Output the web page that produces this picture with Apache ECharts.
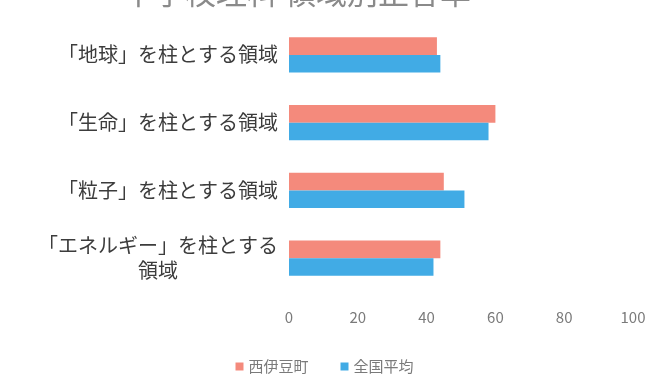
<!DOCTYPE html>
<html>
<head>
<meta charset="utf-8">
<script src="https://cdn.jsdelivr.net/npm/echarts@6/dist/echarts.min.js"></script>
<style>
  html, body { margin: 0; padding: 0; background: #ffffff; }
  #chart { width: 649px; height: 383px; }
</style>
</head>
<body>
<div id="chart"></div>
<script>
// Science (junior high) correct-answer rates by domain
const titleText = '中学校理科 領域別正答率';
const categories = ['「地球」を柱とする領域', '「生命」を柱とする領域', '「粒子」を柱とする領域', '「エネルギー」を柱とする領域'];
const seriesNames = ['西伊豆町', '全国平均'];
const townValues = [43, 60, 45, 44];
const nationalValues = [44, 58, 51, 42];
const valueTicks = [0, 20, 40, 60, 80, 100];

const FONT = '"Noto Sans CJK JP", "Noto Sans", sans-serif';
const LABEL_COLOR = '#3c3c3c';
const chart = echarts.init(document.getElementById('chart'), null, { renderer: 'canvas' });

// Long labels are split after 「…」を柱とする and the remainder is centered under it
function labelFormatter(v) {
  if (v.length > 12) {
    const head = v.slice(0, v.length - 2);
    const tail = v.slice(v.length - 2);
    return '{h|' + head + '}\n{t|' + tail + '}';
  }
  return v;
}

chart.setOption({
  backgroundColor: '#ffffff',
  animation: false,
  title: {
    text: titleText,
    left: 118,
    top: -28,
    textStyle: { fontFamily: FONT, fontSize: 31, fontWeight: 'normal', color: '#8a8a8a' }
  },
  legend: {
    data: seriesNames,
    left: 'center',
    top: 354,
    itemWidth: 8,
    itemHeight: 8,
    itemGap: 32,
    icon: 'rect',
    padding: [5, 0, 5, 20],
    textStyle: { fontFamily: FONT, fontSize: 15, color: '#7a7a7a' }
  },
  grid: { left: 289, right: 16, top: 21, bottom: 91, containLabel: false },
  xAxis: {
    type: 'value',
    min: valueTicks[0],
    max: valueTicks[valueTicks.length - 1],
    interval: valueTicks[1] - valueTicks[0],
    axisLine: { show: false },
    axisTick: { show: false },
    splitLine: { show: false },
    axisLabel: { margin: 18, fontFamily: FONT, fontSize: 15, color: '#7a7a7a' }
  },
  yAxis: {
    type: 'category',
    data: categories,
    inverse: true,
    axisLine: { show: false },
    axisTick: { show: false },
    axisLabel: {
      margin: 11,
      fontFamily: FONT,
      fontSize: 20,
      color: LABEL_COLOR,
      lineHeight: 25,
      formatter: labelFormatter,
      rich: {
        h: { fontFamily: FONT, fontSize: 20, color: LABEL_COLOR, lineHeight: 25 },
        t: { fontFamily: FONT, fontSize: 20, color: LABEL_COLOR, lineHeight: 25, width: 240, align: 'center' }
      }
    }
  },
  series: [
    {
      name: seriesNames[0],
      type: 'bar',
      data: townValues,
      barGap: '0%',
      barCategoryGap: '48%',
      itemStyle: { color: '#f48a7c' }
    },
    {
      name: seriesNames[1],
      type: 'bar',
      data: nationalValues,
      barGap: '0%',
      barCategoryGap: '48%',
      itemStyle: { color: '#41abe5' }
    }
  ]
});
</script>
</body>
</html>
